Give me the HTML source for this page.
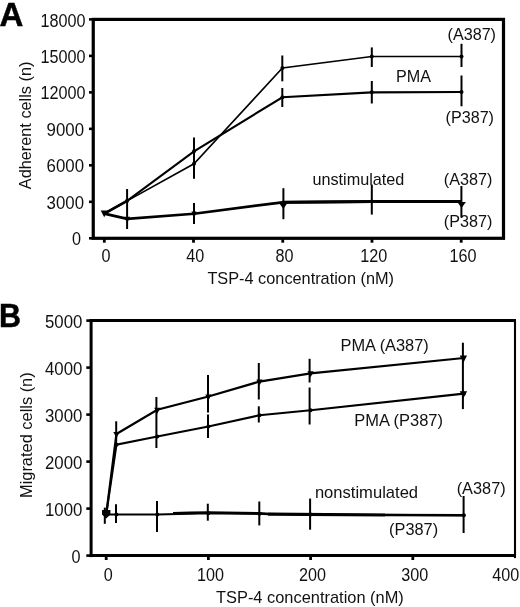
<!DOCTYPE html>
<html><head><meta charset="utf-8"><title>Figure</title>
<style>
html,body{margin:0;padding:0;background:#fff;}
body{width:520px;height:607px;overflow:hidden;font-family:"Liberation Sans",sans-serif;}
svg{display:block;filter:blur(0.35px);}
svg text{font-family:"Liberation Sans",sans-serif;fill:#111;}
svg text.pl{fill:#000;}
</style></head><body>
<svg width="520" height="607" viewBox="0 0 520 607" stroke="#000" stroke-linecap="butt">
<rect x="0" y="0" width="520" height="607" fill="#fff" stroke="none"/>
<g stroke="none">
</g>
<rect x="93.25" y="19.4" width="410.25" height="218.9" fill="none" stroke-width="3.2"/>
<line x1="89.00" y1="238.30" x2="93.25" y2="238.30" stroke-width="2.6" />
<text stroke="none" x="71.90" y="245.40" font-size="18" text-anchor="start" textLength="9.0" lengthAdjust="spacingAndGlyphs" >0</text>
<line x1="89.00" y1="201.82" x2="93.25" y2="201.82" stroke-width="2.6" />
<text stroke="none" x="46.60" y="208.92" font-size="18" text-anchor="start" textLength="37.4" lengthAdjust="spacingAndGlyphs" >3000</text>
<line x1="89.00" y1="165.33" x2="93.25" y2="165.33" stroke-width="2.6" />
<text stroke="none" x="46.60" y="172.43" font-size="18" text-anchor="start" textLength="37.4" lengthAdjust="spacingAndGlyphs" >6000</text>
<line x1="89.00" y1="128.85" x2="93.25" y2="128.85" stroke-width="2.6" />
<text stroke="none" x="46.60" y="135.95" font-size="18" text-anchor="start" textLength="37.4" lengthAdjust="spacingAndGlyphs" >9000</text>
<line x1="89.00" y1="92.37" x2="93.25" y2="92.37" stroke-width="2.6" />
<text stroke="none" x="40.60" y="99.47" font-size="18" text-anchor="start" textLength="45.0" lengthAdjust="spacingAndGlyphs" >12000</text>
<line x1="89.00" y1="55.88" x2="93.25" y2="55.88" stroke-width="2.6" />
<text stroke="none" x="40.60" y="62.98" font-size="18" text-anchor="start" textLength="45.0" lengthAdjust="spacingAndGlyphs" >15000</text>
<line x1="89.00" y1="19.40" x2="93.25" y2="19.40" stroke-width="2.6" />
<text stroke="none" x="40.60" y="26.50" font-size="18" text-anchor="start" textLength="45.0" lengthAdjust="spacingAndGlyphs" >18000</text>
<line x1="104.30" y1="238.30" x2="104.30" y2="242.70" stroke-width="2.8" />
<text stroke="none" x="101.60" y="261.50" font-size="18" text-anchor="start" textLength="9.0" lengthAdjust="spacingAndGlyphs" >0</text>
<line x1="193.52" y1="238.30" x2="193.52" y2="242.70" stroke-width="2.8" />
<text stroke="none" x="186.32" y="261.50" font-size="18" text-anchor="start" textLength="18.0" lengthAdjust="spacingAndGlyphs" >40</text>
<line x1="282.75" y1="238.30" x2="282.75" y2="242.70" stroke-width="2.8" />
<text stroke="none" x="275.55" y="261.50" font-size="18" text-anchor="start" textLength="18.0" lengthAdjust="spacingAndGlyphs" >80</text>
<line x1="371.97" y1="238.30" x2="371.97" y2="242.70" stroke-width="2.8" />
<text stroke="none" x="360.27" y="261.50" font-size="18" text-anchor="start" textLength="27.0" lengthAdjust="spacingAndGlyphs" >120</text>
<line x1="461.20" y1="238.30" x2="461.20" y2="242.70" stroke-width="2.8" />
<text stroke="none" x="449.50" y="261.50" font-size="18" text-anchor="start" textLength="27.0" lengthAdjust="spacingAndGlyphs" >160</text>
<text stroke="none" x="207.40" y="283.50" font-size="17" text-anchor="start" textLength="186.6" lengthAdjust="spacingAndGlyphs" >TSP-4 concentration (nM)</text>
<text stroke="none" transform="translate(31.2,189.2) rotate(-90)" font-size="16.3" >Adherent cells (n)</text>
<polyline fill="none" stroke-width="1.6" points="104.30,213.61 127.10,200.84 194.00,163.75 282.40,68.04 371.80,56.49 461.50,56.49"/>
<polyline fill="none" stroke-width="2.1" points="104.30,213.61 127.10,200.84 194.00,151.35 282.40,97.23 371.80,92.37 461.50,92.00"/>
<polyline fill="none" stroke-width="2.7" points="104.30,213.61 127.10,218.84 194.00,213.73 282.40,202.30 371.80,201.57 461.50,201.45"/>
<polyline fill="none" stroke-width="2.7" points="104.30,213.61 127.10,200.84"/>
<polyline fill="none" stroke-width="3.1" points="282.40,202.30 371.80,201.57 461.50,201.45"/>
<line x1="127.10" y1="189.00" x2="127.10" y2="229.00" stroke-width="2.0" />
<line x1="194.00" y1="137.50" x2="194.00" y2="178.80" stroke-width="2.0" />
<line x1="194.00" y1="203.00" x2="194.00" y2="224.10" stroke-width="2.0" />
<line x1="282.30" y1="55.50" x2="282.30" y2="81.30" stroke-width="2.0" />
<line x1="282.30" y1="88.00" x2="282.30" y2="107.00" stroke-width="2.0" />
<line x1="283.40" y1="188.20" x2="283.40" y2="219.20" stroke-width="2.0" />
<line x1="371.80" y1="47.40" x2="371.80" y2="67.00" stroke-width="2.0" />
<line x1="371.80" y1="81.00" x2="371.80" y2="103.50" stroke-width="2.0" />
<line x1="371.80" y1="184.60" x2="371.80" y2="214.60" stroke-width="2.0" />
<line x1="461.50" y1="43.80" x2="461.50" y2="67.00" stroke-width="2.0" />
<line x1="461.50" y1="75.50" x2="461.50" y2="106.30" stroke-width="2.0" />
<line x1="461.40" y1="186.00" x2="461.40" y2="217.50" stroke-width="2.0" />
<path d="M100.70,210.60 L107.70,210.60 L104.20,217.25 Z" fill="#000" stroke="none"/>
<path d="M124.40,216.68 L130.20,216.68 L127.30,222.19 Z" fill="#000" stroke="none"/>
<path d="M191.40,211.52 L196.60,211.52 L194.00,216.46 Z" fill="#000" stroke="none"/>
<path d="M278.80,202.60 L287.80,202.60 L283.30,209.00 Z" fill="#000" stroke="none"/>
<path d="M457.30,202.00 L465.90,202.00 L461.60,208.00 Z" fill="#000" stroke="none"/>
<circle cx="127.10" cy="200.84" r="2.0" fill="#000" stroke="none"/>
<circle cx="194.00" cy="163.75" r="2.0" fill="#000" stroke="none"/>
<circle cx="282.40" cy="68.04" r="2.0" fill="#000" stroke="none"/>
<circle cx="371.80" cy="56.49" r="2.0" fill="#000" stroke="none"/>
<circle cx="461.50" cy="56.49" r="2.0" fill="#000" stroke="none"/>
<circle cx="194.00" cy="151.35" r="2.0" fill="#000" stroke="none"/>
<circle cx="282.40" cy="97.23" r="2.0" fill="#000" stroke="none"/>
<circle cx="371.80" cy="92.37" r="2.0" fill="#000" stroke="none"/>
<circle cx="461.50" cy="92.00" r="2.0" fill="#000" stroke="none"/>
<circle cx="127.10" cy="218.84" r="2.0" fill="#000" stroke="none"/>
<circle cx="194.00" cy="213.73" r="2.0" fill="#000" stroke="none"/>
<circle cx="371.80" cy="201.57" r="2.0" fill="#000" stroke="none"/>
<text stroke="none" x="447.50" y="39.80" font-size="17" text-anchor="start" textLength="48.5" lengthAdjust="spacingAndGlyphs" >(A387)</text>
<text stroke="none" x="396.00" y="81.60" font-size="17" text-anchor="start" textLength="35" lengthAdjust="spacingAndGlyphs" >PMA</text>
<text stroke="none" x="445.50" y="123.00" font-size="17" text-anchor="start" textLength="48.5" lengthAdjust="spacingAndGlyphs" >(P387)</text>
<text stroke="none" x="312.40" y="184.80" font-size="17" text-anchor="start" textLength="92" lengthAdjust="spacingAndGlyphs" >unstimulated</text>
<text stroke="none" x="443.80" y="185.40" font-size="17" text-anchor="start" textLength="48.5" lengthAdjust="spacingAndGlyphs" >(A387)</text>
<text stroke="none" x="443.80" y="226.80" font-size="17" text-anchor="start" textLength="48.5" lengthAdjust="spacingAndGlyphs" >(P387)</text>
<line x1="91.10" y1="319.10" x2="91.10" y2="557.10" stroke-width="3" />
<line x1="89.60" y1="320.60" x2="516.00" y2="320.60" stroke-width="3" />
<line x1="89.60" y1="555.60" x2="516.00" y2="555.60" stroke-width="3" />
<line x1="515.00" y1="320.60" x2="515.00" y2="558.10" stroke-width="2.1" />
<line x1="86.30" y1="555.60" x2="91.10" y2="555.60" stroke-width="2.6" />
<text stroke="none" x="71.40" y="563.20" font-size="18" text-anchor="start" textLength="9.0" lengthAdjust="spacingAndGlyphs" >0</text>
<line x1="86.30" y1="508.60" x2="91.10" y2="508.60" stroke-width="2.6" />
<text stroke="none" x="45.00" y="516.20" font-size="18" text-anchor="start" textLength="37.4" lengthAdjust="spacingAndGlyphs" >1000</text>
<line x1="86.30" y1="461.60" x2="91.10" y2="461.60" stroke-width="2.6" />
<text stroke="none" x="45.00" y="469.20" font-size="18" text-anchor="start" textLength="37.4" lengthAdjust="spacingAndGlyphs" >2000</text>
<line x1="86.30" y1="414.60" x2="91.10" y2="414.60" stroke-width="2.6" />
<text stroke="none" x="45.00" y="422.20" font-size="18" text-anchor="start" textLength="37.4" lengthAdjust="spacingAndGlyphs" >3000</text>
<line x1="86.30" y1="367.60" x2="91.10" y2="367.60" stroke-width="2.6" />
<text stroke="none" x="45.00" y="375.20" font-size="18" text-anchor="start" textLength="37.4" lengthAdjust="spacingAndGlyphs" >4000</text>
<line x1="86.30" y1="320.60" x2="91.10" y2="320.60" stroke-width="2.6" />
<text stroke="none" x="45.00" y="328.20" font-size="18" text-anchor="start" textLength="37.4" lengthAdjust="spacingAndGlyphs" >5000</text>
<line x1="106.20" y1="555.60" x2="106.20" y2="560.00" stroke-width="2.8" />
<text stroke="none" x="103.70" y="580.80" font-size="18" text-anchor="start" textLength="9.0" lengthAdjust="spacingAndGlyphs" >0</text>
<line x1="208.40" y1="555.60" x2="208.40" y2="560.00" stroke-width="2.8" />
<text stroke="none" x="196.90" y="580.80" font-size="18" text-anchor="start" textLength="27.0" lengthAdjust="spacingAndGlyphs" >100</text>
<line x1="310.60" y1="555.60" x2="310.60" y2="560.00" stroke-width="2.8" />
<text stroke="none" x="299.10" y="580.80" font-size="18" text-anchor="start" textLength="27.0" lengthAdjust="spacingAndGlyphs" >200</text>
<line x1="412.80" y1="555.60" x2="412.80" y2="560.00" stroke-width="2.8" />
<text stroke="none" x="401.30" y="580.80" font-size="18" text-anchor="start" textLength="27.0" lengthAdjust="spacingAndGlyphs" >300</text>
<text stroke="none" x="492.30" y="581.00" font-size="18" text-anchor="start" textLength="27.0" lengthAdjust="spacingAndGlyphs" >400</text>
<text stroke="none" x="216.00" y="602.60" font-size="17" text-anchor="start" textLength="187.8" lengthAdjust="spacingAndGlyphs" >TSP-4 concentration (nM)</text>
<text stroke="none" transform="translate(32.4,498.0) rotate(-90)" font-size="16.4" >Migrated cells (n)</text>
<polyline fill="none" stroke-width="2.2" points="106.20,514.48 116.42,434.01 157.30,409.81 208.40,396.55 259.50,381.56 310.60,373.33 463.90,357.97"/>
<polyline fill="none" stroke-width="2.1" points="106.20,514.48 116.42,444.73 157.30,436.50 208.40,426.54 259.50,415.26 310.60,410.28 463.90,393.59"/>
<polyline fill="none" stroke-width="2.0" points="105.18,514.48 116.42,514.57 157.30,514.57 208.40,513.30 259.50,513.77 310.60,514.62 463.90,515.18"/>
<polyline fill="none" stroke-width="2.6" points="173.00,513.30 190.00,512.90 208.00,512.50 259.00,513.40 268.00,514.00"/>
<polyline fill="none" stroke-width="3.2" points="268.00,514.20 385.00,515.00"/>
<polyline fill="none" stroke-width="2.6" points="385.00,515.00 463.90,515.20"/>
<line x1="104.80" y1="507.60" x2="104.80" y2="523.80" stroke-width="2.0" />
<line x1="116.20" y1="421.30" x2="116.20" y2="446.00" stroke-width="2.0" />
<line x1="116.00" y1="504.30" x2="116.00" y2="522.90" stroke-width="2.0" />
<line x1="156.40" y1="397.00" x2="156.40" y2="448.00" stroke-width="2.0" />
<line x1="157.00" y1="501.00" x2="157.00" y2="532.00" stroke-width="2.0" />
<line x1="208.00" y1="375.00" x2="208.00" y2="412.50" stroke-width="2.0" />
<line x1="208.00" y1="414.50" x2="208.00" y2="438.00" stroke-width="2.0" />
<line x1="207.80" y1="503.70" x2="207.80" y2="520.70" stroke-width="2.0" />
<line x1="258.80" y1="363.00" x2="258.80" y2="399.50" stroke-width="2.0" />
<line x1="258.80" y1="406.30" x2="258.80" y2="422.50" stroke-width="2.0" />
<line x1="259.30" y1="501.50" x2="259.30" y2="525.40" stroke-width="2.0" />
<line x1="309.60" y1="358.80" x2="309.60" y2="382.50" stroke-width="2.0" />
<line x1="309.60" y1="387.50" x2="309.60" y2="424.50" stroke-width="2.0" />
<line x1="310.10" y1="498.60" x2="310.10" y2="529.70" stroke-width="2.0" />
<line x1="462.90" y1="342.70" x2="462.90" y2="409.10" stroke-width="2.0" />
<line x1="463.60" y1="496.00" x2="463.60" y2="533.00" stroke-width="2.0" />
<path d="M113.32,432.03 L119.52,432.03 L116.42,437.92 Z" fill="#000" stroke="none"/>
<path d="M154.20,407.83 L160.40,407.83 L157.30,413.72 Z" fill="#000" stroke="none"/>
<path d="M205.30,394.57 L211.50,394.57 L208.40,400.46 Z" fill="#000" stroke="none"/>
<path d="M256.40,379.58 L262.60,379.58 L259.50,385.47 Z" fill="#000" stroke="none"/>
<path d="M307.50,371.35 L313.70,371.35 L310.60,377.24 Z" fill="#000" stroke="none"/>
<path d="M459.70,355.61 L467.10,355.61 L463.40,362.64 Z" fill="#000" stroke="none"/>
<path d="M459.70,391.23 L467.10,391.23 L463.40,398.26 Z" fill="#000" stroke="none"/>
<path d="M102,510 L110.4,510 L110.4,514.6 L106.2,518.6 L102,514.6 Z" fill="#000" stroke="none"/>
<circle cx="116.42" cy="444.73" r="2.0" fill="#000" stroke="none"/>
<circle cx="157.30" cy="436.50" r="2.0" fill="#000" stroke="none"/>
<circle cx="208.40" cy="426.54" r="2.0" fill="#000" stroke="none"/>
<circle cx="259.50" cy="415.26" r="2.0" fill="#000" stroke="none"/>
<circle cx="310.60" cy="410.28" r="2.0" fill="#000" stroke="none"/>
<circle cx="463.90" cy="393.59" r="2.0" fill="#000" stroke="none"/>
<circle cx="116.42" cy="514.57" r="2.0" fill="#000" stroke="none"/>
<circle cx="157.30" cy="514.57" r="2.0" fill="#000" stroke="none"/>
<circle cx="208.40" cy="513.30" r="2.0" fill="#000" stroke="none"/>
<circle cx="259.50" cy="513.77" r="2.0" fill="#000" stroke="none"/>
<circle cx="310.60" cy="514.62" r="2.0" fill="#000" stroke="none"/>
<circle cx="463.90" cy="515.18" r="2.0" fill="#000" stroke="none"/>
<text stroke="none" x="340.50" y="351.30" font-size="17" text-anchor="start" textLength="88.3" lengthAdjust="spacingAndGlyphs" >PMA (A387)</text>
<text stroke="none" x="354.20" y="426.30" font-size="17" text-anchor="start" textLength="88.8" lengthAdjust="spacingAndGlyphs" >PMA (P387)</text>
<text stroke="none" x="314.90" y="498.10" font-size="17" text-anchor="start" textLength="103.2" lengthAdjust="spacingAndGlyphs" >nonstimulated</text>
<text stroke="none" x="456.70" y="494.40" font-size="17" text-anchor="start" textLength="49" lengthAdjust="spacingAndGlyphs" >(A387)</text>
<text stroke="none" x="389.10" y="535.00" font-size="17" text-anchor="start" textLength="49" lengthAdjust="spacingAndGlyphs" >(P387)</text>
<text stroke="#000" stroke-width="0.5" transform="translate(-0.4,25.6)" font-size="33" class="pl" font-weight="bold">A</text>
<text stroke="#000" stroke-width="0.5" transform="translate(-0.9,326.6) scale(0.94,1)" font-size="32.4" class="pl" font-weight="bold">B</text>
</svg>
</body></html>
